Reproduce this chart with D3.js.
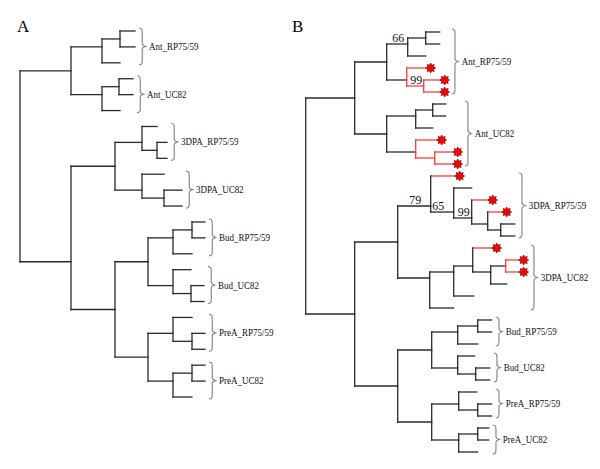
<!DOCTYPE html>
<html>
<head>
<meta charset="utf-8">
<script src="https://cdn.jsdelivr.net/npm/d3@7"></script>
<style>
  body { margin: 0; background: #fff; }
  text { font-family: "Liberation Serif", "Times New Roman", serif; }
</style>
</head>
<body>
<script>
// ~~~~~~~~~~~~~~~~~~ DATA
// trees as newick, branch lengths (arbitrary units)
const treeA = "((((a1:15,a2:15):18,a3:18):31,((a4:14,a5:14):17,a6:18):31):51," +
  "(((a7:15,(a8:10,a9:10):15):27,(a10:22,(a11:18,a12:18):22):27):44," +
  "((((a13:13,a14:13):19,a15:19):25,(a16:18,(a17:13,a18:13):18):25):33," +
  "((a19:19,(a20:13,a21:13):19):25,((a22:13,a23:13):19,a24:19):25):33):44):51);";

const treeB = "(((((b1:14,b2:14):18,b3:18)n66:21,(b4:24,(b5:21,b6:21)n99a:17):20):32," +
  "(((b7:13,b8:13):17,b9:17):29,(b10:26,(b11:23,b12:23):19):29):32):49," +
  "(((b13:29,(b14:18,(b15:21,(b16:19,(b17:14,b18:14):13):16)n99b:18)n65:23)n79:33," +
  "(((b19:24,((b20:18,b21:18):15,b22:16):18):19,b23:20):24,b24:24):32):43," +
  "((((b25:14,b26:14):20,b27:20):26,(b28:17,(b29:14,b30:14):18):26):34," +
  "((b31:18,(b32:14,b33:14):19):27,((b34:11,b35:11):19,b36:19):27):34):43):49);";

// leaves marked with a red star in panel B
const starredB = ["b4", "b5", "b6", "b10", "b11", "b12", "b13", "b15", "b16", "b19", "b20", "b21"];

// bootstrap support shown in panel B
const supportNodes = ["n66", "n99a", "n79", "n65", "n99b"];
const supportValues = [66, 99, 79, 65, 99];

// bracket labels and how many leaves each covers
const groupLabels = ["Ant_RP75/59", "Ant_UC82", "3DPA_RP75/59", "3DPA_UC82",
  "Bud_RP75/59", "Bud_UC82", "PreA_RP75/59", "PreA_UC82"];
const groupSizeA = [3, 3, 3, 3, 3, 3, 3, 3];
const groupSizeB = [6, 6, 6, 6, 3, 3, 3, 3];

// ~~~~~~~~~~~~~~~~~~ VARIABLES
const width = 600, height = 469;
const lineColor = "#2a2a2a";
const red = "#ff3b3b";
// the "65" sits further left on its branch than the others
const supportNudge = { n65: -5 };

const svg = d3.select("body").append("svg")
  .attr("width", width)
  .attr("height", height);

// plain newick parser
function parseNewick(s) {
  let ancestors = [], tree = {};
  const tokens = s.split(/\s*(;|\(|\)|,|:)\s*/);
  for (let i = 0; i < tokens.length; i++) {
    const t = tokens[i];
    switch (t) {
      case "(": { const sub = {}; tree.children = [sub]; ancestors.push(tree); tree = sub; break; }
      case ",": { const sub = {}; ancestors[ancestors.length - 1].children.push(sub); tree = sub; break; }
      case ")": tree = ancestors.pop(); break;
      case ":": break;
      default: {
        const prev = tokens[i - 1];
        if (prev === ":") tree.length = parseFloat(t);
        else if (t) tree.name = t;
      }
    }
  }
  return tree;
}

// curly bracket "}" from y0 to y1
function bracePath(x, y0, y1, w) {
  const m = (y0 + y1) / 2, h = w * 0.5;
  return `M${x},${y0} C${x + h},${y0} ${x + h},${y0 + 2} ${x + h},${y0 + 5}` +
    ` L${x + h},${m - 3} C${x + h},${m - 1} ${x + w},${m} ${x + w},${m}` +
    ` C${x + w},${m} ${x + h},${m + 1} ${x + h},${m + 3}` +
    ` L${x + h},${y1 - 5} C${x + h},${y1 - 2} ${x + h},${y1} ${x},${y1}`;
}

function starPath(r, n) {
  const pts = [];
  for (let i = 0; i < n * 2; i++) {
    const a = Math.PI * i / n - Math.PI / 2;
    const rr = i % 2 ? r * 0.62 : r;
    pts.push([Math.cos(a) * rr, Math.sin(a) * rr]);
  }
  return "M" + pts.join("L") + "Z";
}

function drawTree(opts) {
  const g = svg.append("g");
  const root = d3.hierarchy(parseNewick(opts.newick),
    d => d.children && d.children.length ? d.children : null);

  // cumulative branch length
  root.eachBefore(d => { d.len = d.parent ? d.parent.len + (d.data.length || 0) : 0; });

  const leaves = root.leaves();
  const x = d3.scaleLinear().domain(opts.xDomain).range(opts.xRange);
  const y = d3.scaleLinear().domain([0, leaves.length - 1]).range(opts.yRange);

  leaves.forEach((d, i) => { d.py = y(i); });
  // internal node sits at the mean height of its leaves
  root.eachAfter(d => {
    d.px = x(d.len);
    if (d.children) d.py = d3.mean(d.leaves(), l => l.py);
  });

  const starred = new Set(opts.starred || []);
  root.eachAfter(d => {
    d.red = d.children ? d.children.every(c => c.red) : starred.has(d.data.name);
  });

  // horizontal branches
  g.selectAll(".branch")
    .data(root.descendants().filter(d => d.parent))
    .join("path")
    .attr("class", "branch")
    .attr("d", d => `M${d.parent.px},${d.py}H${d.px}`)
    .attr("fill", "none")
    .attr("stroke", d => d.red && (!d.children || d.parent.red) ? red : lineColor)
    .attr("stroke-width", 1.3)
    .attr("stroke-linecap", "square");

  // vertical connectors
  g.selectAll(".connector")
    .data(root.descendants().filter(d => d.children))
    .join("path")
    .attr("class", "connector")
    .attr("d", d => `M${d.px},${d.children[0].py}V${d.children[d.children.length - 1].py}`)
    .attr("fill", "none")
    .attr("stroke", d => d.red ? red : lineColor)
    .attr("stroke-width", 1.3)
    .attr("stroke-linecap", "square");

  // stars on marked leaves
  g.selectAll(".star")
    .data(leaves.filter(d => starred.has(d.data.name)))
    .join("path")
    .attr("class", "star")
    .attr("transform", d => `translate(${d.px},${d.py})`)
    .attr("d", starPath(5, 8))
    .attr("fill", "#f00")
    .attr("stroke", "#5a0000")
    .attr("stroke-width", 0.6);

  // support values above the middle of the branch leading to the node
  if (opts.supportNodes) {
    const byName = new Map(root.descendants().filter(d => d.data.name).map(d => [d.data.name, d]));
    g.selectAll(".support")
      .data(opts.supportNodes.map((n, i) => ({ name: n, node: byName.get(n), v: opts.supportValues[i] })))
      .join("text")
      .attr("class", "support")
      .attr("x", d => (d.node.px + d.node.parent.px) / 2 + 1 + (supportNudge[d.name] || 0))
      .attr("y", d => d.node.py - 2.5)
      .attr("text-anchor", "middle")
      .attr("font-size", 12)
      .attr("fill", "#111")
      .text(d => d.v);
  }

  // brackets and group labels
  let start = 0;
  const groups = opts.groupSize.map((n, i) => {
    const ls = leaves.slice(start, start + n);
    start += n;
    return {
      label: groupLabels[i],
      x: d3.max(ls, l => l.px + (starred.has(l.data.name) ? 3 : 0)) + 4,
      y0: ls[0].py - 3,
      y1: ls[ls.length - 1].py + 2
    };
  });

  g.selectAll(".brace")
    .data(groups)
    .join("path")
    .attr("class", "brace")
    .attr("d", d => bracePath(d.x, d.y0, d.y1, 6.5))
    .attr("fill", "none")
    .attr("stroke", "#8a8a8a")
    .attr("stroke-width", 1.2);

  // labels are a touch narrower than plain Times
  g.selectAll(".glabel")
    .data(groups)
    .join("text")
    .attr("class", "glabel")
    .attr("transform", d => `translate(${d.x + 10},${(d.y0 + d.y1) / 2 + 3.5}) scale(0.9,1)`)
    .attr("font-size", 10)
    .attr("fill", "#111")
    .text(d => d.label);

  g.append("text")
    .attr("x", opts.letterX)
    .attr("y", 32)
    .attr("font-size", 17)
    .attr("fill", "#000")
    .text(opts.letter);
}

drawTree({
  newick: treeA,
  xDomain: [0, 185], xRange: [20, 205],
  yRange: [31, 397],
  groupSize: groupSizeA,
  letter: "A", letterX: 17
});

drawTree({
  newick: treeB,
  xDomain: [0, 218], xRange: [305.7, 523.7],
  yRange: [32, 452],
  starred: starredB,
  supportNodes: supportNodes, supportValues: supportValues,
  groupSize: groupSizeB,
  letter: "B", letterX: 292
});
</script>
</body>
</html>
